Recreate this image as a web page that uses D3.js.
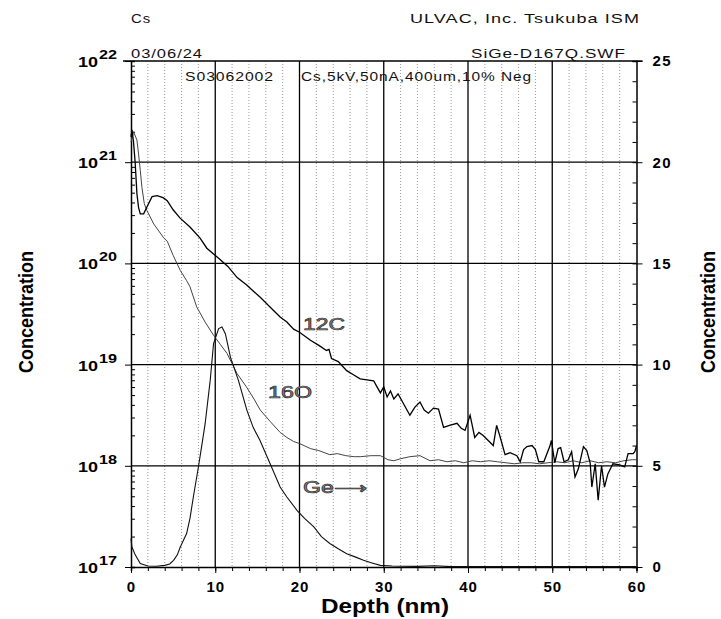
<!DOCTYPE html>
<html>
<head>
<meta charset="utf-8">
<script src="https://cdn.jsdelivr.net/npm/d3@7"></script>
<style>
  body { margin: 0; background: #fff; }
  text { font-family: "Liberation Sans", Arial, sans-serif; }
</style>
</head>
<body>
<svg id="sims" width="721" height="619"></svg>
<script>
const svg = d3.select("#sims");

// depth (nm) and log10 concentration (atoms/cc)
const cDepth = [0, 0.12, 0.3, 0.5, 0.7, 0.9, 1.1, 1.5, 1.9, 2.5, 3.1, 3.8, 4.3, 5.0, 5.8, 7.0, 8.2, 9.0, 10.4, 11.5,
  12.6, 13.7, 14.6, 15.4, 16.5, 17.7, 18.5, 19.3, 20.0, 21.3, 22.3, 23.2, 23.5, 23.8, 24.6, 25.6, 26.4, 27.2, 28.0, 28.8,
  29.2, 29.6, 30.0, 30.4, 30.8, 31.2, 31.7, 32.3, 33.1, 33.7, 34.3, 34.8, 35.3, 35.9, 36.5, 37.1, 37.8, 38.7, 39.2, 39.65,
  40.25, 40.8, 41.3, 41.8, 42.4, 43.0, 43.4, 43.8, 44.4, 45.0, 45.8, 46.2, 46.6, 47.0, 47.6, 48.0, 48.4, 49.0, 49.7, 49.9,
  50.3, 50.7, 51.0, 51.4, 51.9, 52.3, 52.7, 53.1, 53.7, 54.1, 54.5, 54.7, 55.1, 55.45, 55.85, 56.2, 56.6, 57.2, 58.0, 58.6,
  59.0, 59.6, 59.8, 60.0];
const cLog = [21.25, 21.32, 21.2, 20.99, 20.69, 20.55, 20.49, 20.49, 20.56, 20.66, 20.67, 20.65, 20.62, 20.53, 20.45, 20.36, 20.25, 20.15, 20.05, 19.97,
  19.86, 19.79, 19.72, 19.66, 19.57, 19.47, 19.42, 19.35, 19.32, 19.24, 19.19, 19.14, 19.15, 19.06, 19.03, 18.94, 18.9, 18.86, 18.85, 18.84,
  18.78, 18.72, 18.78, 18.68, 18.74, 18.66, 18.71, 18.62, 18.5, 18.58, 18.63, 18.55, 18.52, 18.57, 18.56, 18.38, 18.4, 18.42, 18.37, 18.35,
  18.5, 18.28, 18.33, 18.3, 18.25, 18.2, 18.4, 18.29, 18.11, 18.13, 18.1, 18.04, 18.16, 18.19, 18.2, 18.16, 18.04, 18.04, 18.19, 18.25,
  18.03, 18.17, 18.18, 18.04, 18.06, 18.14, 17.89, 17.97, 18.19, 18.15, 18.03, 17.79, 18.02, 17.66, 18.0, 17.79, 17.92, 18.02, 18.01, 17.99,
  18.12, 18.12, 18.14, 18.2];

const oDepth = [0, 0.3, 0.7, 0.9, 1.1, 1.3, 1.58, 1.9, 2.7, 3.9, 4.3, 5.0, 5.85, 6.6, 7.0, 7.8, 8.8, 9.8, 10.6, 11.4,
  12.6, 13.7, 14.6, 15.35, 16.5, 17.7, 18.5, 19.3, 20.0, 21.3, 22.3, 23.6, 24.5, 25.5, 26.5, 27.2, 28.5, 29.6, 30.5, 31.2,
  32.0, 33.1, 34.3, 35.5, 36.5, 37.5, 38.5, 39.5, 40.5, 41.5, 42.5, 43.5, 44.5, 45.5, 46.5, 47.5, 48.5, 49.5, 50.5, 51.5,
  52.5, 53.5, 54.5, 55.5, 56.5, 57.5, 58.5, 59.5, 60.0];
const oLog = [21.2, 21.3, 21.22, 21.08, 20.92, 20.75, 20.59, 20.52, 20.39, 20.25, 20.22, 20.08, 19.93, 19.83, 19.77, 19.57, 19.42, 19.29, 19.2, 19.11,
  18.91, 18.78, 18.66, 18.55, 18.44, 18.33, 18.28, 18.24, 18.22, 18.17, 18.15, 18.11, 18.12, 18.1, 18.09, 18.09, 18.1, 18.1, 18.06, 18.05,
  18.07, 18.09, 18.1, 18.05, 18.06, 18.04, 18.05, 18.03, 18.05, 18.04, 18.05, 18.04, 18.03, 18.02, 18.03, 18.03, 18.02, 18.03, 18.04, 18.03,
  18.05, 18.03, 18.05, 18.03, 18.04, 18.03, 18.05, 18.06, 18.06];

// Ge in atomic %, right axis
const geDepth = [0, 0.1, 0.5, 1.1, 2.0, 3.0, 4.0, 4.6, 5.05, 5.5, 5.85, 6.6, 7.0, 7.4, 8.0, 8.4, 8.8, 9.4, 9.8, 10.4,
  10.8, 11.2, 11.8, 12.75, 13.76, 14.5, 15.3, 16.5, 17.7, 18.5, 19.7, 20.6, 21.7, 22.6, 23.6, 24.6, 25.6, 26.6, 27.6, 28.6,
  29.6, 31.0, 32.0, 34.0, 36.0, 38.0, 40.0, 45.0, 50.0, 55.0, 60.0];
const geVal = [1.4, 1.0, 0.6, 0.17, 0.05, 0.04, 0.08, 0.15, 0.33, 0.6, 0.99, 1.65, 2.4, 3.46, 4.94, 6.0, 7.08, 9.22, 11.04, 11.78,
  11.86, 11.53, 10.37, 9.22, 7.74, 6.9, 6.26, 5.11, 3.95, 3.46, 2.8, 2.4, 1.98, 1.5, 1.16, 0.9, 0.66, 0.5, 0.33, 0.2,
  0.08, 0.05, 0.04, 0.03, 0.06, 0.02, 0.02, 0.02, 0.02, 0.02, 0.02];

const xTicks = [0, 10, 20, 30, 40, 50, 60];
const decades = [17, 18, 19, 20, 21, 22];
const rightTicks = [0, 5, 10, 15, 20, 25];

const margin = { top: 61, bottom: 52, left: 131, right: 84.5 };
const width = +svg.attr("width");
const height = +svg.attr("height");
const x0 = margin.left, x1 = width - margin.right;
const y0 = height - margin.bottom, y1 = margin.top;

const xScale = d3.scaleLinear().domain([0, 60]).range([x0, x1]);
const yScale = d3.scaleLog().domain([1e17, 1e22]).range([y0, y1]);
const yRight = d3.scaleLinear().domain([0, 25]).range([y0, y1]);

// dotted minor grid every 2 nm
const dotted = d3.range(2, 60, 2).filter((d) => d % 10 !== 0);
svg.append("g").selectAll("line").data(dotted).join("line")
  .attr("x1", (d) => xScale(d)).attr("x2", (d) => xScale(d))
  .attr("y1", y1).attr("y2", y0)
  .attr("stroke", "#9a9a9a").attr("stroke-width", 1).attr("stroke-dasharray", "1,2");

// solid grid
svg.append("g").selectAll("line").data(xTicks.slice(1, -1)).join("line")
  .attr("x1", (d) => xScale(d)).attr("x2", (d) => xScale(d))
  .attr("y1", y1).attr("y2", y0)
  .attr("stroke", "#000").attr("stroke-width", 1.3);
svg.append("g").selectAll("line").data(decades.slice(1, -1)).join("line")
  .attr("x1", x0).attr("x2", x1)
  .attr("y1", (d) => yScale(10 ** d)).attr("y2", (d) => yScale(10 ** d))
  .attr("stroke", "#000").attr("stroke-width", 1.3);

const bold = (sel, size) => sel.attr("font-family", "Liberation Sans, Arial, sans-serif")
  .attr("font-weight", "bold").attr("font-size", size).attr("fill", "#000");

// bottom axis
svg.append("g").attr("transform", `translate(0,${y0})`)
  .call(d3.axisBottom(xScale).tickValues(d3.range(0, 61, 2)).tickSize(4).tickFormat(""))
  .call((g) => g.select(".domain").attr("stroke-width", 1.5));
svg.append("g").attr("transform", `translate(0,${y0})`)
  .call(d3.axisBottom(xScale).tickValues(xTicks).tickSize(6).tickPadding(8))
  .call((g) => g.select(".domain").remove())
  .call((g) => bold(g.selectAll("text"), 15).attr("letter-spacing", 1));

// left log axis: inward minor ticks, outward major
const minor = [];
decades.slice(0, -1).forEach((e) => { for (let k = 2; k < 10; k++) minor.push(k * 10 ** e); });
svg.append("g").attr("transform", `translate(${x0},0)`)
  .call(d3.axisLeft(yScale).tickValues(minor).tickSize(-4).tickFormat(""))
  .call((g) => g.select(".domain").attr("stroke-width", 1.5));
svg.append("g").attr("transform", `translate(${x0},0)`)
  .call(d3.axisLeft(yScale).tickValues(decades.map((d) => 10 ** d)).tickSize(6).tickFormat(""))
  .call((g) => g.select(".domain").remove());
bold(svg.append("g").selectAll("text").data(decades).join("text")
  .attr("x", 78).attr("y", (d) => yScale(10 ** d) + 6)
  .attr("textLength", 20).attr("lengthAdjust", "spacingAndGlyphs"), 15).text("10");
bold(svg.append("g").selectAll("text").data(decades).join("text")
  .attr("x", 99).attr("y", (d) => yScale(10 ** d) - 2)
  .attr("textLength", 18).attr("lengthAdjust", "spacingAndGlyphs"), 12).text((d) => d);

// right linear axis
svg.append("g").attr("transform", `translate(${x1},0)`)
  .call(d3.axisRight(yRight).tickValues(d3.range(0, 26)).tickSize(-4).tickFormat(""))
  .call((g) => g.select(".domain").attr("stroke-width", 1.5));
svg.append("g").attr("transform", `translate(${x1},0)`)
  .call(d3.axisRight(yRight).tickValues(rightTicks).tickSize(6).tickPadding(10))
  .call((g) => g.select(".domain").remove())
  .call((g) => bold(g.selectAll("text"), 15).attr("letter-spacing", 1.5));

// top border
svg.append("line").attr("x1", x0 - 8).attr("x2", x1 + 6).attr("y1", y1).attr("y2", y1)
  .attr("stroke", "#000").attr("stroke-width", 1.5);

// curves
const logLine = d3.line().x((d) => xScale(d[0])).y((d) => yScale(10 ** d[1]));
const linLine = d3.line().x((d) => xScale(d[0])).y((d) => yRight(d[1]));
svg.append("path").attr("d", logLine(d3.zip(oDepth, oLog)))
  .attr("fill", "none").attr("stroke", "#444").attr("stroke-width", 1);
svg.append("path").attr("d", linLine(d3.zip(geDepth, geVal)))
  .attr("fill", "none").attr("stroke", "#111").attr("stroke-width", 1.1);
svg.append("path").attr("d", logLine(d3.zip(cDepth, cLog)))
  .attr("fill", "none").attr("stroke", "#000").attr("stroke-width", 1.3);

// curve labels
const lab = (t, xp, yp, len) => svg.append("text").attr("x", xp).attr("y", yp)
  .attr("font-family", "DejaVu Sans, sans-serif")
  .attr("font-size", 16).attr("fill", "#8a8a8a").attr("stroke", "#222").attr("stroke-width", 0.6)
  .attr("textLength", len).attr("lengthAdjust", "spacingAndGlyphs").text(t);
lab("12C", 303, 330, 42);
lab("16O", 268, 398, 44);
lab("Ge\u27F6", 303, 493, 64);

// header texts
const small = (t, xp, yp, len, anchor) => svg.append("text").attr("x", xp).attr("y", yp)
  .attr("font-size", 13.5).attr("fill", "#111").attr("text-anchor", anchor || "start")
  .attr("letter-spacing", 0.8)
  .attr("textLength", len).attr("lengthAdjust", "spacingAndGlyphs").text(t);
small("Cs", 131, 23, 20);
small("ULVAC, Inc. Tsukuba ISM", 640, 23, 230, "end");
small("03/06/24", 131, 58, 72);
small("SiGe-D167Q.SWF", 626, 58, 155, "end");
small("S03062002", 185, 81, 89);
small("Cs,5kV,50nA,400um,10% Neg", 301, 81, 231);

// axis titles
bold(svg.append("text").attr("x", 385).attr("y", 613).attr("text-anchor", "middle")
  .attr("textLength", 128).attr("lengthAdjust", "spacingAndGlyphs"), 20)
  .text("Depth (nm)");
const conc = (xp) => svg.append("text")
  .attr("transform", `translate(${xp},312) rotate(-90)`).attr("text-anchor", "middle")
  .attr("font-family", "Liberation Sans Narrow, Liberation Sans, sans-serif")
  .attr("font-weight", "bold")
  .attr("font-size", 21).attr("textLength", 122).attr("lengthAdjust", "spacingAndGlyphs")
  .text("Concentration");
conc(33);
conc(715);
</script>
</body>
</html>
